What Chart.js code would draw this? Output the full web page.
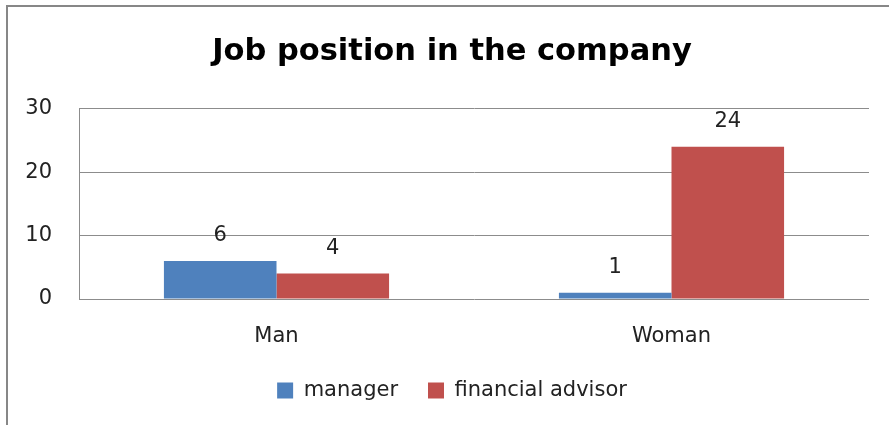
<!DOCTYPE html>
<html>
<head>
<script src="https://cdn.jsdelivr.net/npm/chart.js@4.4.0/dist/chart.umd.min.js"></script>
<title>Job position in the company</title>
<style>
  body { margin: 0; background: #fff; }
  #wrap { position: relative; width: 889px; height: 425px; overflow: hidden; }
  #frame { position: absolute; left: 6px; top: 5px; width: 1000px; height: 1000px; border: 2px solid #878787; }
  #chart-area { position: absolute; left: 0; top: 0; width: 904px; height: 425px; }
</style>
</head>
<body>
<div id="wrap">
  <div id="frame"></div>
  <!-- canvas a bit wider than the page so the title sits where the original has it -->
  <div id="chart-area"><canvas id="myChart" width="904" height="425"></canvas></div>
</div>
<script>
// data
var categories = ['Man', 'Woman'];
var managerValues = [6, 1];
var advisorValues = [4, 24];
var seriesNames = ['manager', 'financial advisor'];
var yTicks = [0, 10, 20, 30];

var textFont = "'DejaVu Sans', sans-serif";

// draws the number above each bar (no datalabels plugin offline)
var barValueLabels = {
  id: 'barValueLabels',
  afterDatasetsDraw: function(chart) {
    var ctx = chart.ctx;
    ctx.save();
    ctx.font = '21px ' + textFont;
    ctx.fillStyle = '#222';
    ctx.textAlign = 'center';
    ctx.textBaseline = 'middle';
    chart.data.datasets.forEach(function(ds, i) {
      chart.getDatasetMeta(i).data.forEach(function(bar, j) {
        ctx.fillText(String(ds.data[j]), bar.x, bar.y - 25);
      });
    });
    ctx.restore();
  }
};

var ctx = document.getElementById('myChart').getContext('2d');
var myChart = new Chart(ctx, {
  type: 'bar',
  data: {
    labels: categories,
    datasets: [
      { label: seriesNames[0], data: managerValues, backgroundColor: '#4F81BD' },
      { label: seriesNames[1], data: advisorValues, backgroundColor: '#C0504D' }
    ]
  },
  options: {
    responsive: false,
    animation: false,
    devicePixelRatio: 1,
    categoryPercentage: 0.57,
    barPercentage: 1.0,
    layout: { padding: { left: 0, right: 0, top: 0, bottom: 14 } },
    scales: {
      x: {
        grid: { display: false },
        border: { display: false },
        ticks: { color: '#222', font: { family: textFont, size: 21 }, padding: 17 },
        afterFit: function(scale) { scale.height = 51; }
      },
      y: {
        min: 0,
        max: 30,
        afterBuildTicks: function(scale) {
          scale.ticks = yTicks.map(function(v) { return { value: v }; });
        },
        grid: { color: '#8c8c8c', lineWidth: 1, drawTicks: false },
        border: { display: true, color: '#8c8c8c', width: 1 },
        ticks: { color: '#222', font: { family: textFont, size: 21 }, padding: 27 },
        afterFit: function(scale) { scale.width = 79; }
      },
      // empty right-hand axis, only reserves the blank strip right of the plot
      yRight: {
        position: 'right',
        min: 0,
        max: 30,
        grid: { display: false },
        border: { display: false },
        ticks: { display: false },
        afterFit: function(scale) { scale.width = 35; }
      }
    },
    plugins: {
      title: {
        display: true,
        text: 'Job position in the company',
        color: '#000',
        font: { family: "'DejaVu Sans', sans-serif", size: 30.5, weight: 'bold' },
        padding: { top: 34, bottom: 38 }
      },
      legend: {
        position: 'bottom',
        labels: {
          color: '#222',
          font: { family: textFont, size: 21 },
          boxWidth: 16,
          boxHeight: 16,
          padding: 30
        }
      },
      tooltip: { enabled: false }
    }
  },
  plugins: [barValueLabels]
});
</script>
</body>
</html>
